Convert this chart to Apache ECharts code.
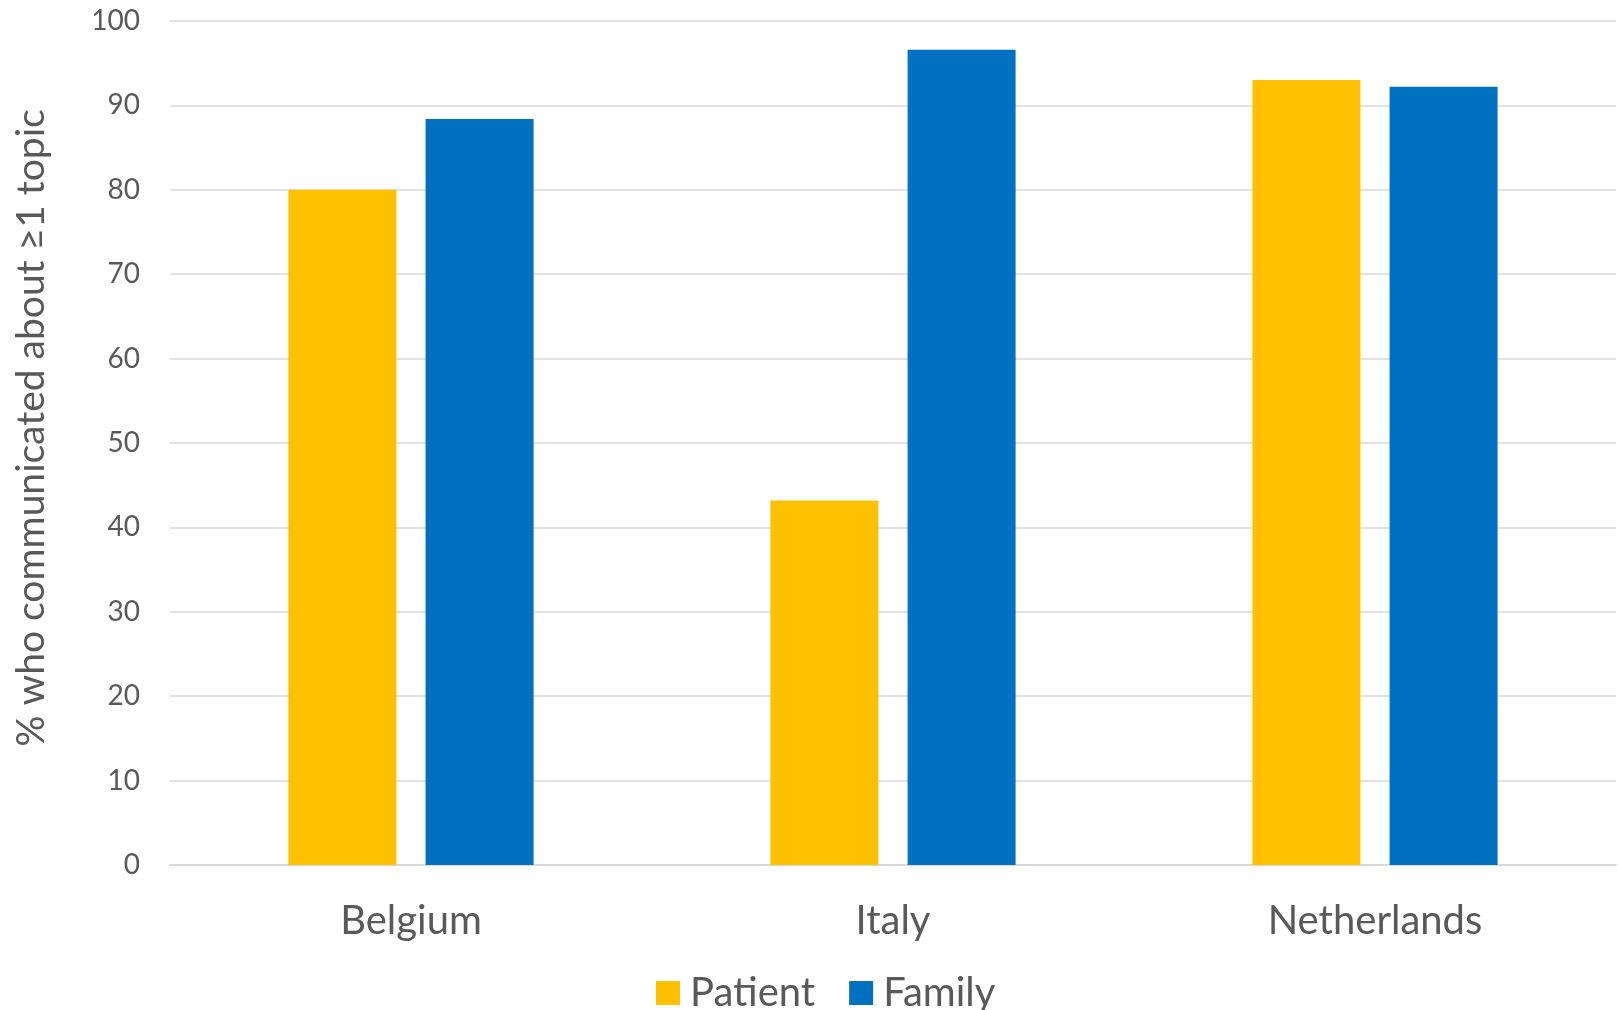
<!DOCTYPE html>
<html>
<head>
<meta charset="utf-8">
<script src="https://cdn.jsdelivr.net/npm/echarts@6/dist/echarts.min.js"></script>
<style>
  html, body { margin: 0; padding: 0; background: #ffffff; }
  #chart { width: 1618px; height: 1010px; }
</style>
</head>
<body>
<div id="chart"></div>
<script>
// Share of participants who communicated about at least one topic, by country
const countries = ['Belgium', 'Italy', 'Netherlands'];
const patientValues = [80.0, 43.2, 93.0];
const familyValues = [88.4, 96.6, 92.2];
const yTicks = [0, 10, 20, 30, 40, 50, 60, 70, 80, 90, 100];

const FONT = 'Lato, "Open Sans", sans-serif';
const TEXT = '#595959';
const GRID = '#d9d9d9';

const chart = echarts.init(document.getElementById('chart'), null, { renderer: 'canvas' });
chart.setOption({
  animation: false,
  backgroundColor: '#ffffff',
  textStyle: { fontFamily: FONT },
  grid: { left: 170, right: 2, top: 21, bottom: 145, containLabel: false, outerBoundsMode: 'none' },
  legend: {
    data: ['Patient', 'Family'],
    top: 968,
    left: 651,
    itemWidth: 24,
    itemHeight: 24,
    itemGap: 34,
    icon: 'rect',
    textStyle: { color: TEXT, fontSize: 40, fontFamily: FONT, padding: [0, 0, 0, 5] }
  },
  xAxis: {
    type: 'category',
    data: countries,
    axisLine: { show: true, lineStyle: { color: GRID, width: 2 } },
    axisTick: { show: false },
    axisLabel: { color: TEXT, fontSize: 40, margin: 36, fontFamily: FONT }
  },
  yAxis: {
    type: 'value',
    min: yTicks[0],
    max: yTicks[yTicks.length - 1],
    interval: 10,
    name: '% who communicated about \u22651 topic',
    nameLocation: 'middle',
    nameGap: 119,
    nameTextStyle: { color: TEXT, fontSize: 39, fontFamily: FONT, padding: [0, 0, 0, 30] },
    axisLine: { show: false },
    axisTick: { show: false },
    axisLabel: { color: TEXT, fontSize: 28, margin: 30, fontFamily: FONT },
    splitLine: { lineStyle: { color: GRID, width: 1.5 } }
  },
  series: [
    {
      name: 'Patient',
      type: 'bar',
      data: patientValues,
      barWidth: 108,
      barGap: '27%',
      itemStyle: { color: '#ffc000' }
    },
    {
      name: 'Family',
      type: 'bar',
      data: familyValues,
      barWidth: 108,
      itemStyle: { color: '#0070c0' }
    }
  ]
});
</script>
</body>
</html>
